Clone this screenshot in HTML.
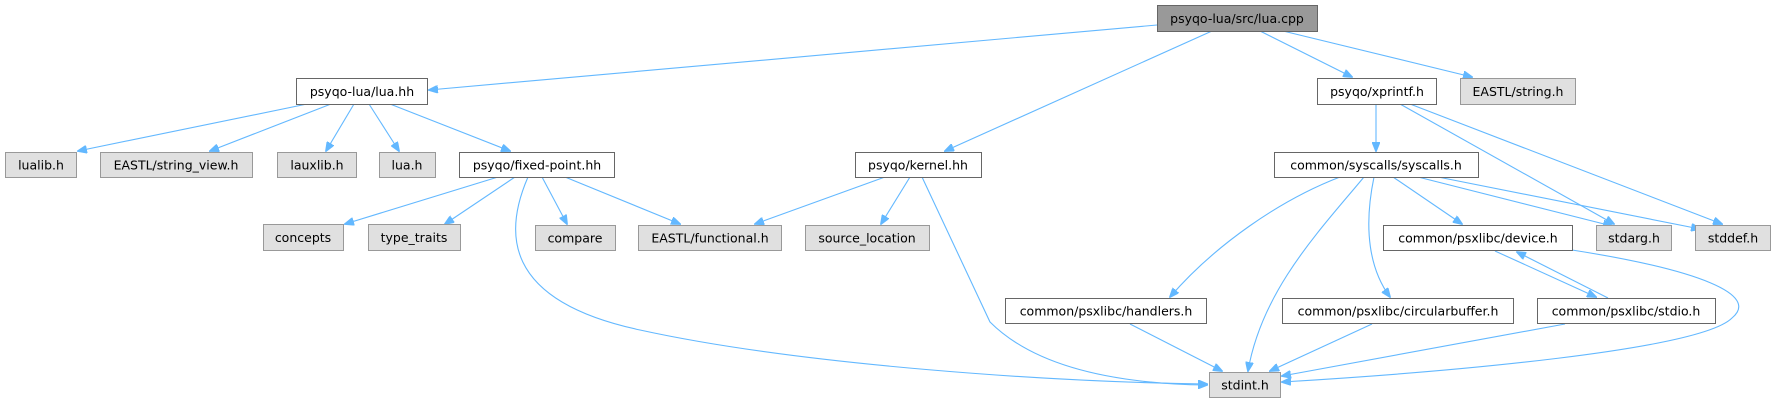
<!DOCTYPE html>
<html><head><meta charset="utf-8"><style>
html,body{margin:0;padding:0;background:#fff;}
svg{display:block;}
text{font-family:"DejaVu Sans","Liberation Sans",sans-serif;font-size:12.5px;fill:#000;text-anchor:middle;dominant-baseline:central;}
.w{fill:#fff;stroke:#666;stroke-width:1;}
.g{fill:#e0e0e0;stroke:#999;stroke-width:1;}
.r{fill:#999;stroke:#666;stroke-width:1;}
.e{fill:none;stroke:#63b8ff;stroke-width:1.1;marker-end:url(#a);}
</style></head><body>
<svg width="1775" height="403" viewBox="0 0 1775 403" xmlns="http://www.w3.org/2000/svg">
<defs><marker id="a" markerWidth="10" markerHeight="8" refX="9" refY="4" orient="auto" markerUnits="userSpaceOnUse"><path d="M0,0 L10,4 L0,8 Z" fill="#63b8ff" stroke="#63b8ff"/></marker></defs>
<g>
<path class="e" d="M1157,25 L429,90"/>
<path class="e" d="M1212,31 L945,151"/>
<path class="e" d="M1260,31 L1352,77"/>
<path class="e" d="M1283,31 L1472,77"/>
<path class="e" d="M307,104 L78,151"/>
<path class="e" d="M331,104 L210,151"/>
<path class="e" d="M354,104 L326,151"/>
<path class="e" d="M369,104 L399,151"/>
<path class="e" d="M390,104 L510,151"/>
<path class="e" d="M498,177 L345,224"/>
<path class="e" d="M515,177 L445,224"/>
<path class="e" d="M542,177 L567,224"/>
<path class="e" d="M565,177 L680,224"/>
<path class="e" d="M528,177 C505,230 500,300 640,330 C800,365 1050,382 1207,384"/>
<path class="e" d="M885,177 L755,224"/>
<path class="e" d="M910,177 L881,224"/>
<path class="e" d="M922,177 L990,322 C1040,372 1130,384 1207,385"/>
<path class="e" d="M1376,104 L1376,151"/>
<path class="e" d="M1400,104 L1614,224"/>
<path class="e" d="M1410,104 L1722,224"/>
<path class="e" d="M1340,177 C1280,200 1215,245 1170,297"/>
<path class="e" d="M1364,177 C1320,230 1262,290 1248,371"/>
<path class="e" d="M1374,177 C1363,230 1370,270 1390,297"/>
<path class="e" d="M1393,177 L1462,224"/>
<path class="e" d="M1418,177 L1612,226"/>
<path class="e" d="M1438,177 L1700,229"/>
<path class="e" d="M1495,251 L1596,297"/>
<path class="e" d="M1608,298 L1517,252"/>
<path class="e" d="M1572,250 C1700,270 1760,295 1732,318 C1700,350 1450,372 1282,382"/>
<path class="e" d="M1130,324 L1222,371"/>
<path class="e" d="M1372,324 L1270,371"/>
<path class="e" d="M1565,324 L1282,376"/>
</g>
<rect class="r" x="1157.5" y="5.5" width="160" height="26"/><text x="1237" y="18.5">psyqo-lua/src/lua.cpp</text>
<rect class="w" x="296.5" y="78.5" width="131" height="26"/><text x="362" y="91.5">psyqo-lua/lua.hh</text>
<rect class="w" x="1317.5" y="78.5" width="119" height="26"/><text x="1377" y="91.5">psyqo/xprintf.h</text>
<rect class="g" x="1460.5" y="78.5" width="115" height="26"/><text x="1518" y="91.5">EASTL/string.h</text>
<rect class="g" x="5.5" y="152.5" width="71" height="25"/><text x="41" y="165">lualib.h</text>
<rect class="g" x="100.5" y="152.5" width="152" height="25"/><text x="176" y="165">EASTL/string_view.h</text>
<rect class="g" x="277.5" y="152.5" width="79" height="25"/><text x="317" y="165">lauxlib.h</text>
<rect class="g" x="379.5" y="152.5" width="56" height="25"/><text x="407" y="165">lua.h</text>
<rect class="w" x="459.5" y="152.5" width="155" height="25"/><text x="537" y="165">psyqo/fixed-point.hh</text>
<rect class="w" x="855.5" y="152.5" width="126" height="25"/><text x="918" y="165">psyqo/kernel.hh</text>
<rect class="w" x="1274.5" y="152.5" width="204" height="25"/><text x="1376" y="165">common/syscalls/syscalls.h</text>
<rect class="g" x="263.5" y="224.5" width="80" height="26"/><text x="303" y="237.5">concepts</text>
<rect class="g" x="368.5" y="224.5" width="92" height="26"/><text x="414" y="237.5">type_traits</text>
<rect class="g" x="535.5" y="225.5" width="80" height="25"/><text x="575" y="238">compare</text>
<rect class="g" x="638.5" y="225.5" width="143" height="25"/><text x="710" y="238">EASTL/functional.h</text>
<rect class="g" x="805.5" y="225.5" width="124" height="25"/><text x="867" y="238">source_location</text>
<rect class="w" x="1383.5" y="225.5" width="189" height="25"/><text x="1478" y="238">common/psxlibc/device.h</text>
<rect class="g" x="1596.5" y="225.5" width="75" height="25"/><text x="1634" y="238">stdarg.h</text>
<rect class="g" x="1695.5" y="225.5" width="75" height="25"/><text x="1733" y="238">stddef.h</text>
<rect class="w" x="1005.5" y="298.5" width="201" height="25"/><text x="1106" y="311">common/psxlibc/handlers.h</text>
<rect class="w" x="1282.5" y="298.5" width="231" height="25"/><text x="1398" y="311">common/psxlibc/circularbuffer.h</text>
<rect class="w" x="1537.5" y="298.5" width="178" height="25"/><text x="1626" y="311">common/psxlibc/stdio.h</text>
<rect class="g" x="1209.5" y="372.5" width="71" height="25"/><text x="1245" y="385">stdint.h</text>
</svg>
</body></html>
